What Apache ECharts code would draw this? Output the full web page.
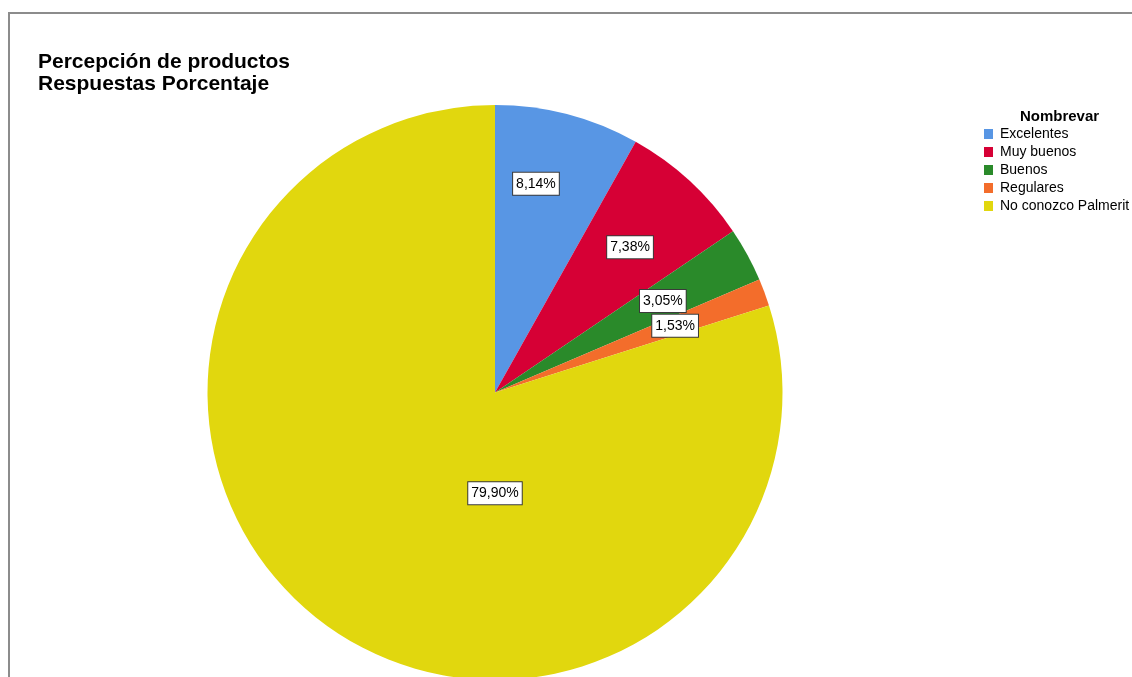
<!DOCTYPE html>
<html>
<head>
<meta charset="utf-8">
<title>Percepción de productos</title>
<script src="https://cdn.jsdelivr.net/npm/echarts@6/dist/echarts.min.js"></script>
<style>
  html, body { margin: 0; padding: 0; background: #fff; }
  #chart { width: 1132px; height: 677px; }
</style>
</head>
<body>
<div id="chart"></div>
<script>
// Survey answers and their share of responses (%)
const categories = ['Excelentes', 'Muy buenos', 'Buenos', 'Regulares', 'No conozco Palmerit'];
const percentages = [8.14, 7.38, 3.05, 1.53, 79.90];
const sliceColors = ['#5896E4', '#D60035', '#2A8A2A', '#F36D2B', '#E1D70E'];

const FONT = "'Liberation Sans', Arial, Helvetica, sans-serif";
const CENTER = [495, 392.5];
const RADIUS = 287.5;

// Label anchor per slice: [angle clockwise from 12 o'clock in degrees, fraction of radius]
const labelSpots = [[11.1, 0.74], [42.9, 0.69], [61.4, 0.665], [69.7, 0.668], [180, 0.35]];

const chart = echarts.init(document.getElementById('chart'), null, { renderer: 'canvas' });

const pieData = categories.map((name, i) => ({
  name: name,
  value: percentages[i],
  itemStyle: { color: sliceColors[i] }
}));

const option = {
  backgroundColor: '#ffffff',
  animation: false,
  textStyle: { fontFamily: FONT },
  title: {
    text: 'Percepción de productos\nRespuestas Porcentaje',
    left: 38,
    top: 51,
    padding: 0,
    textStyle: {
      fontFamily: FONT,
      fontSize: 21,
      fontWeight: 'bold',
      lineHeight: 22,
      color: '#000'
    }
  },
  legend: {
    orient: 'vertical',
    left: 984,
    top: 127,
    padding: 0,
    itemWidth: 9,
    itemHeight: 10,
    itemGap: 4,
    icon: 'rect',
    selectedMode: false,
    data: categories,
    textStyle: {
      fontFamily: FONT,
      fontSize: 14,
      lineHeight: 14,
      color: '#000',
      padding: [0, 0, 0, 2]
    }
  },
  graphic: [
    {
      type: 'rect',
      silent: true,
      shape: { x: 9, y: 13, width: 1400, height: 900 },
      style: { fill: 'none', stroke: '#8c8c8c', lineWidth: 2 }
    },
    {
      type: 'text',
      silent: true,
      x: 1059.5,
      y: 109,
      style: {
        text: 'Nombrevar',
        textAlign: 'center',
        textVerticalAlign: 'top',
        font: 'bold 15px ' + FONT,
        fill: '#000'
      }
    }
  ],
  series: [
    {
      type: 'pie',
      center: CENTER,
      radius: [0, RADIUS],
      startAngle: 90,
      clockwise: true,
      avoidLabelOverlap: false,
      silent: true,
      itemStyle: { borderWidth: 0 },
      label: {
        show: true,
        position: 'inside',
        formatter: p => p.value.toFixed(2).replace('.', ',') + '%',
        fontFamily: FONT,
        fontSize: 14,
        lineHeight: 16,
        color: '#000',
        backgroundColor: '#ffffff',
        borderColor: '#3a3a3a',
        borderWidth: 1,
        padding: [3, 3, 3, 3]
      },
      labelLine: { show: false },
      labelLayout: function (params) {
        const spot = labelSpots[params.dataIndex];
        const a = spot[0] * Math.PI / 180;
        const d = spot[1] * RADIUS;
        return {
          x: CENTER[0] + d * Math.sin(a),
          y: CENTER[1] - d * Math.cos(a),
          align: 'center',
          verticalAlign: 'middle'
        };
      },
      data: pieData
    }
  ]
};

chart.setOption(option);
</script>
</body>
</html>
